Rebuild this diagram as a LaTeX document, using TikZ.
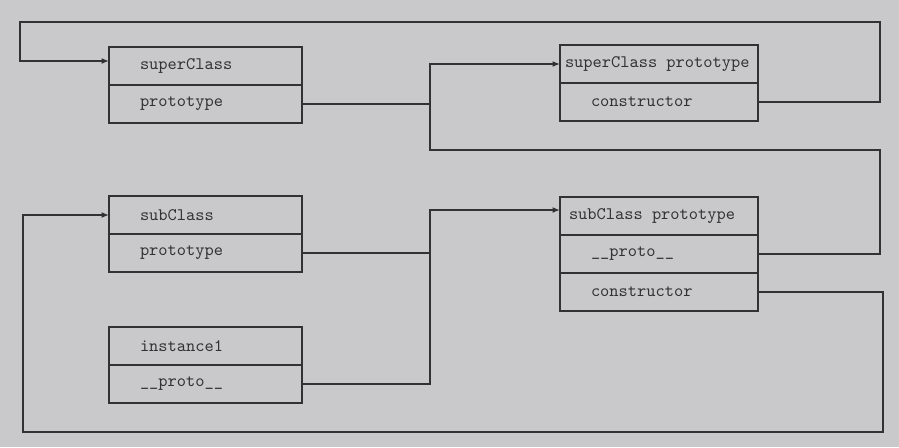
\documentclass[tikz,border=0pt]{standalone}
\usepackage{tikz}
\usepackage{xcolor}
\usetikzlibrary{arrows.meta, positioning}
\definecolor{paperGray}{RGB}{201,201,203}
\definecolor{inkGray}{RGB}{50,50,52}
\newcommand{\ttgap}{\hspace{0.525em}}
\tikzset{
    rowLeft/.style={rectangle, draw=inkGray, line width=0.8pt, outer sep=0pt, minimum height=7.6mm, inner xsep=6.2mm, text width=26.2mm, align=left, font=\ttfamily, text=inkGray},
    rowRight/.style={rowLeft, text width=27.2mm},
    linkLine/.style={draw=inkGray, line width=0.8pt}
}

\begin{document}
\begin{tikzpicture}[>={Latex[length=1.5mm, width=1.2mm]}]
    \fill[paperGray] (0,0) rectangle (17.98,-8.94);
    \coordinate (busA) at (8.6,0);
    \node[rowLeft, anchor=north west] (SuperHead) at (2.18,-0.94) {superClass};
    \node[rowLeft, below=0pt of SuperHead] (SuperProto) {prototype};
    \node[rowRight, anchor=north west, inner xsep=1mm, text width=37.6mm] (SpHead) at (11.2,-0.9) {superClass\ttgap prototype};
    \node[rowRight, below=0pt of SpHead] (SpCtor) {constructor};
    \node[rowLeft, anchor=north west] (SubHead) at (2.18,-3.92) {subClass};
    \node[rowLeft, below=0pt of SubHead] (SubProto) {prototype};
    \node[rowLeft, anchor=north west] (InstHead) at (2.18,-6.54) {instance1};
    \node[rowLeft, below=0pt of InstHead] (InstProto) {\_\_proto\_\_};
    \node[rowRight, anchor=north west, inner xsep=1.8mm, text width=36mm] (SbpHead) at (11.2,-3.94) {subClass\ttgap prototype};
    \node[rowRight, below=0pt of SbpHead] (SbpProto) {\_\_proto\_\_};
    \node[rowRight, below=0pt of SbpProto] (SbpCtor) {constructor};
    \coordinate (superIn) at ([yshift=1mm]SuperHead.west);
    \coordinate (sbpIn) at ([yshift=1.2mm]SbpHead.west);
    \draw[linkLine, ->] (SpCtor.east) -| (17.6,-0.44) -- (0.4,-0.44) |- (superIn);
    \draw[linkLine, ->] (SuperProto.east) -| (busA |- SpHead.west) -- (SpHead.west);
    \draw[linkLine] (SbpProto.east) -| (17.6,-3.0) -| (busA |- SpHead.west);
    \draw[linkLine, ->] (SubProto.east) -| (busA |- sbpIn) -- (sbpIn);
    \draw[linkLine] (InstProto.east) -| (busA |- sbpIn);
    \draw[linkLine, ->] (SbpCtor.east) -| (17.66,-8.64) -- (0.46,-8.64) |- (SubHead.west);
\end{tikzpicture}
\end{document}
